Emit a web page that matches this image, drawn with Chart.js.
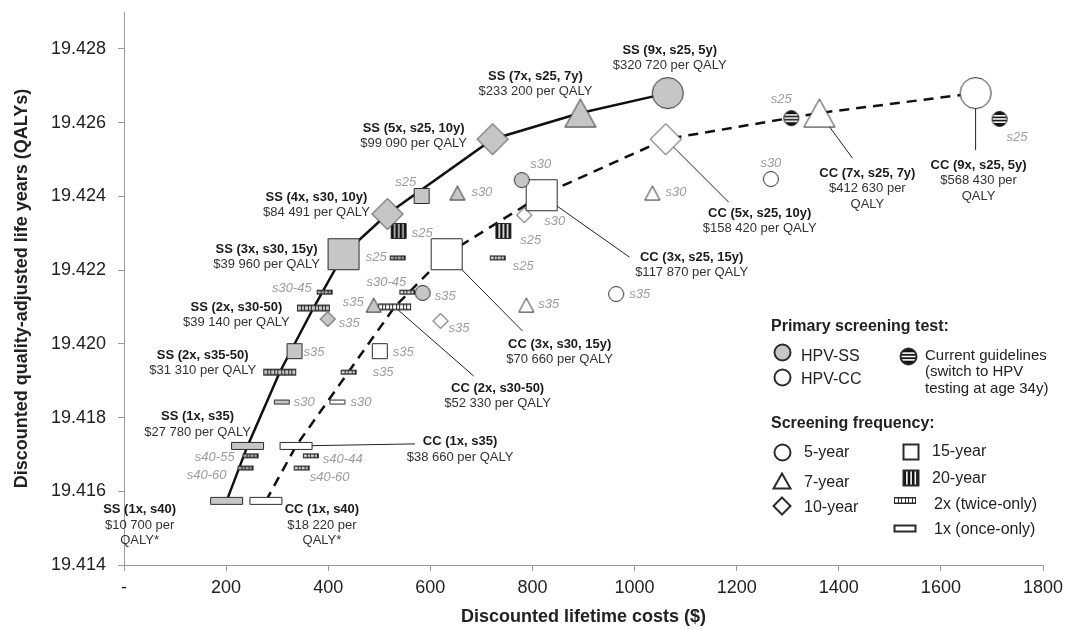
<!DOCTYPE html>
<html>
<head>
<meta charset="utf-8">
<script src="https://cdn.jsdelivr.net/npm/chart.js@4.4.1/dist/chart.umd.min.js"></script>
<style>
  body { margin: 0; background: #fff; }
  #wrap { width: 1065px; height: 629px; }
</style>
</head>
<body>
<div id="wrap"><canvas id="myChart" width="1065" height="629"></canvas></div>
<script>
// axis ticks
const costTicks = [0, 200, 400, 600, 800, 1000, 1200, 1400, 1600, 1800];
const qalyTicks = [19.414, 19.416, 19.418, 19.420, 19.422, 19.424, 19.426, 19.428];

// HPV-SS strategies
const ssType = ['1x', '1x', '1x', '2x', '2x', '2x', '15y', '2x', '2x', '10y', '15y', '2x', '20y', '10y', '15y', '7y', '5y', '10y', '7y', '5y', '7y', '5y'];
const ssCost = [201, 242, 309, 248, 238, 305, 334, 371, 393, 399, 430, 536, 538, 516, 583, 653, 779, 722, 894, 1065, 489, 585];
const ssQaly = [19.41574, 19.41723, 19.41842, 19.41696, 19.41663, 19.41923, 19.4198, 19.42097, 19.4214, 19.42067, 19.42243, 19.42233, 19.42306, 19.42352, 19.42401, 19.42409, 19.42444, 19.42555, 19.42626, 19.4268, 19.42105, 19.42138];
const ssTag = ['', '', 's30', 's40-55', 's40-60', '', 's35', '', 's30-45', 's35', '', 's25', 's25', '', 's25', 's30', 's30', '', '', '', 's35', 's35'];
const ssName = ['SS (1x, s40)', 'SS (1x, s35)', '', '', '', 'SS (2x, s35-50)', '', 'SS (2x, s30-50)', '', '', 'SS (3x, s30, 15y)', '', '', 'SS (4x, s30, 10y)', '', '', '', 'SS (5x, s25, 10y)', 'SS (7x, s25, 7y)', 'SS (9x, s25, 5y)', '', ''];
const ssIcer = ['$10 700 per|QALY*', '$27 780 per QALY', '', '', '', '$31 310 per QALY', '', '$39 140 per QALY', '', '', '$39 960 per QALY', '', '', '$84 491 per QALY', '', '', '', '$99 090 per QALY', '$233 200 per QALY', '$320 720 per QALY', '', ''];

// HPV-CC strategies
const ccType = ['1x', '1x', '1x', '2x', '2x', '2x', '15y', '10y', '2x', '2x', '15y', '2x', '20y', '10y', '15y', '7y', '5y', '7y', '10y', '5y', '7y', '5y'];
const ccCost = [278, 337, 418, 366, 348, 440, 501, 620, 530, 555, 632, 732, 743, 784, 818, 788, 964, 1035, 1061, 1267, 1362, 1668];
const ccQaly = [19.41574, 19.41723, 19.41842, 19.41696, 19.41663, 19.41923, 19.4198, 19.42062, 19.421, 19.4214, 19.42243, 19.42233, 19.42306, 19.42349, 19.42403, 19.42105, 19.42135, 19.42409, 19.42555, 19.42447, 19.42626, 19.4268];
const ccTag = ['', '', 's30', 's40-44', 's40-60', 's35', 's35', 's35', '', 's30-45', '', 's25', 's25', 's30', '', 's35', 's35', 's30', '', 's30', '', ''];
const ccName = ['CC (1x, s40)', 'CC (1x, s35)', '', '', '', '', '', '', 'CC (2x, s30-50)', '', 'CC (3x, s30, 15y)', '', '', '', 'CC (3x, s25, 15y)', '', '', '', 'CC (5x, s25, 10y)', '', 'CC (7x, s25, 7y)', 'CC (9x, s25, 5y)'];
const ccIcer = ['$18 220 per|QALY*', '$38 660 per QALY', '', '', '', '', '', '', '$52 330 per QALY', '', '$70 660 per QALY', '', '', '', '$117 870 per QALY', '', '', '', '$158 420 per QALY', '', '$412 630 per|QALY', '$568 430 per|QALY'];

// current guidelines
const cgCost = [1307, 1715];
const cgQaly = [19.42612, 19.4261];
const cgTag = ['s25', 's25'];

// label placement (pixel offsets from the marker)
const ssTagAt = {2: [12, 0, 'left'], 3: [-16, 2, 'right'], 4: [-19, 7, 'right'], 6: [9, 1, 'left'], 8: [-13, -4, 'right'], 9: [11, 4, 'left'], 11: [-11, -1, 'right'], 12: [13, 2, 'left'], 14: [-16, -14, 'center'], 15: [14, -1, 'left'], 16: [19, -16, 'center'], 20: [-10, -3, 'right'], 21: [12, 3, 'left']};
const ssNameAt = {0: [-87, 9], 1: [-50, -29], 5: [-77, -17], 7: [-77, -1], 10: [-77, -5], 13: [-71, -17], 17: [-79, -11], 18: [-45, -37], 19: [2, -43]};
const ccTagAt = {2: [13, 0, 'left'], 3: [12, 4, 'left'], 4: [8, 9, 'left'], 5: [24, 0, 'left'], 6: [13, 1, 'left'], 7: [8, 7, 'left'], 9: [-21, -10, 'center'], 11: [15, 8, 'left'], 12: [17, 9, 'left'], 13: [20, 6, 'left'], 15: [12, -1, 'left'], 16: [13, 0, 'left'], 17: [13, -1, 'left'], 19: [0, -16, 'center']};
const ccNameAt = {0: [56, 9], 1: [164, -4], 8: [103, 81], 10: [113, 90], 14: [150, 62], 18: [94, 74], 20: [48, 60], 21: [3, 72]};
const ccLeadTo = {1: [119, -2], 8: [79, 69], 10: [76, 77], 14: [88, 62], 18: [63, 63], 20: [33, 45], 21: [0, 57]};
const cgTagAt = {0: [-10, -19, 'center'], 1: [7, 18, 'left']};

const FONT = '"Liberation Sans", Arial, sans-serif';
const GRAY = '#c6c6c6';
const WHITE = '#ffffff';

// marker pictures used as Chart.js pointStyle
const marker = function (type, fill, w, h, lw) {
  lw = lw || 1;
  const c = document.createElement('canvas');
  c.width = w + 2 * lw;
  c.height = h + 2 * lw;
  const g = c.getContext('2d');
  g.translate(lw, lw);
  g.lineWidth = lw;
  g.strokeStyle = '#2b2b2b';
  g.fillStyle = fill;
  g.beginPath();
  if (type === '5y' || type === 'cg') {
    g.arc(w / 2, h / 2, w / 2 - 0.5, 0, Math.PI * 2);
  } else if (type === '7y') {
    g.moveTo(w / 2, 0.5);
    g.lineTo(w - 0.5, h - 0.5);
    g.lineTo(0.5, h - 0.5);
    g.closePath();
  } else if (type === '10y') {
    g.moveTo(w / 2, 0.5);
    g.lineTo(w - 0.5, h / 2);
    g.lineTo(w / 2, h - 0.5);
    g.lineTo(0.5, h / 2);
    g.closePath();
  } else {
    g.rect(0.5, 0.5, w - 1, h - 1);
  }
  g.fill();
  if (type === 'cg') {
    g.save();
    g.clip();
    g.fillStyle = '#111';
    g.fillRect(0, 0, w, h);
    g.fillStyle = '#fff';
    for (const f of [0.3, 0.5, 0.7]) g.fillRect(0, h * f - 0.8, w, 1.6);
    g.restore();
  }
  if (type === '20y') {
    g.fillStyle = '#111';
    for (let i = 0; i < 4; i++) g.fillRect(0.5 + i * 4.2, 0.5, 2.6, h - 1);
  }
  g.stroke();
  if (type === '2x') {
    g.beginPath();
    for (let x = 3.5; x < w - 1; x += 3.5) {
      g.moveTo(Math.round(x) + 0.5, 0.5);
      g.lineTo(Math.round(x) + 0.5, h - 0.5);
    }
    g.stroke();
    g.fillStyle = '#2b2b2b';
    g.fillRect(0, 0, w, 1.5);
    g.fillRect(0, h - 1.5, w, 1.5);
  }
  return c;
};

const markerFor = function (type, fill, big) {
  if (type === '1x') return big ? marker(type, fill, 33, 8) : marker(type, fill, 16, 5);
  if (type === '2x') return big ? marker(type, fill, 33, 7) : marker(type, fill, 16, 5);
  if (type === '20y') return marker(type, fill, 16, 16);
  if (type === 'cg') return marker(type, fill, 16, 16);
  const s = big ? 32 : 16;
  return marker(type, fill, s, type === '7y' ? Math.round(s * 0.92) : s);
};

const points = function (cost, qaly) {
  return cost.map((c, i) => ({x: c, y: qaly[i]}));
};
const frontier = function (cost, qaly, name) {
  return points(cost, qaly).filter((p, i) => name[i] !== '').sort((a, b) => a.x - b.x);
};

const series = [
  {cost: ssCost, qaly: ssQaly, tag: ssTag, name: ssName, icer: ssIcer, tagAt: ssTagAt, nameAt: ssNameAt, leadTo: {}},
  {cost: ccCost, qaly: ccQaly, tag: ccTag, name: ccName, icer: ccIcer, tagAt: ccTagAt, nameAt: ccNameAt, leadTo: ccLeadTo},
  {cost: cgCost, qaly: cgQaly, tag: cgTag, name: [], icer: [], tagAt: cgTagAt, nameAt: {}, leadTo: {}},
];

const notes = {
  id: 'notes',
  beforeDatasetsDraw(chart) {
    const ctx = chart.ctx;
    const xs = chart.scales.x, ys = chart.scales.y;
    ctx.save();
    ctx.strokeStyle = '#222';
    ctx.lineWidth = 1;
    for (const s of series) {
      for (const k in s.leadTo) {
        const px = xs.getPixelForValue(s.cost[k]), py = ys.getPixelForValue(s.qaly[k]);
        ctx.beginPath();
        ctx.moveTo(px, py);
        ctx.lineTo(px + s.leadTo[k][0], py + s.leadTo[k][1]);
        ctx.stroke();
      }
    }
    ctx.restore();
  },
  afterDatasetsDraw(chart) {
    const ctx = chart.ctx;
    const xs = chart.scales.x, ys = chart.scales.y;
    ctx.save();
    ctx.textBaseline = 'middle';
    for (const s of series) {
      ctx.font = 'italic 13px ' + FONT;
      ctx.fillStyle = '#9c9c9c';
      for (const k in s.tagAt) {
        const px = xs.getPixelForValue(s.cost[k]), py = ys.getPixelForValue(s.qaly[k]);
        const a = s.tagAt[k];
        ctx.textAlign = a[2];
        ctx.fillText(s.tag[k], px + a[0], py + a[1]);
      }
      ctx.textAlign = 'center';
      for (const k in s.nameAt) {
        const px = xs.getPixelForValue(s.cost[k]), py = ys.getPixelForValue(s.qaly[k]);
        const a = s.nameAt[k];
        const x = px + a[0];
        let y = py + a[1];
        ctx.font = 'bold 13px ' + FONT;
        ctx.fillStyle = '#1a1a1a';
        ctx.fillText(s.name[k], x, y);
        ctx.font = '13px ' + FONT;
        ctx.fillStyle = '#333';
        for (const line of s.icer[k].split('|')) {
          y += 15.5;
          ctx.fillText(line, x, y);
        }
      }
    }
    ctx.restore();
  },
  afterDraw(chart) {
    const ctx = chart.ctx;
    const icon = function (c, x, y) {
      ctx.drawImage(c, Math.round(x - c.width / 2), Math.round(y - c.height / 2));
    };
    const text = function (t, x, y, font) {
      ctx.font = font;
      ctx.fillText(t, x, y);
    };
    ctx.save();
    ctx.fillStyle = '#222';
    ctx.textAlign = 'left';
    ctx.textBaseline = 'middle';
    const big = 'bold 16px ' + FONT, reg = '16px ' + FONT, small = '15px ' + FONT;
    text('Primary screening test:', 771, 327, big);
    icon(marker('5y', GRAY, 17, 17, 2), 782, 352);
    text('HPV-SS', 801, 357, reg);
    icon(marker('5y', WHITE, 17, 17, 2), 782, 377);
    text('HPV-CC', 801, 380, reg);
    icon(marker('cg', WHITE, 17, 17, 2), 908, 356);
    text('Current guidelines', 925, 356, small);
    text('(switch to HPV', 925, 372, small);
    text('testing at age 34y)', 925, 389, small);
    text('Screening frequency:', 771, 424, big);
    icon(marker('5y', WHITE, 17, 17, 2), 782, 452);
    text('5-year', 804, 453, reg);
    icon(marker('7y', WHITE, 18, 16, 2), 782, 481);
    text('7-year', 804, 483, reg);
    icon(marker('10y', WHITE, 18, 18, 2), 782, 506);
    text('10-year', 804, 508, reg);
    icon(marker('15y', WHITE, 16, 16, 2), 911, 452);
    text('15-year', 932, 452, reg);
    icon(marker('20y', WHITE, 16, 16, 2), 911, 478);
    text('20-year', 932, 479, reg);
    icon(marker('2x', WHITE, 22, 7), 905, 500);
    text('2x (twice-only)', 934, 505, reg);
    icon(marker('1x', WHITE, 22, 7, 2), 905, 528);
    text('1x (once-only)', 934, 530, reg);
    ctx.restore();
  },
};

const init = function () {
  Chart.defaults.font.family = FONT;
  Chart.defaults.color = '#222';
  const ctx = document.getElementById('myChart').getContext('2d');
  new Chart(ctx, {
    type: 'scatter',
    data: {
      datasets: [
        {
          data: points(cgCost, cgQaly),
          pointStyle: cgCost.map(() => markerFor('cg', WHITE, false)),
          pointRadius: 5,
          order: 1,
        },
        {
          data: points(ssCost, ssQaly),
          pointStyle: ssType.map((t, i) => markerFor(t, GRAY, ssName[i] !== '')),
          pointRadius: 5,
          order: 1,
        },
        {
          data: points(ccCost, ccQaly),
          pointStyle: ccType.map((t, i) => markerFor(t, WHITE, ccName[i] !== '')),
          pointRadius: 5,
          order: 1,
        },
        {
          data: frontier(ssCost, ssQaly, ssName),
          showLine: true,
          borderColor: '#111',
          borderWidth: 2.5,
          pointRadius: 0,
          order: 5,
        },
        {
          data: frontier(ccCost, ccQaly, ccName),
          showLine: true,
          borderColor: '#111',
          borderWidth: 2.5,
          borderDash: [10, 7],
          pointRadius: 0,
          order: 5,
        },
      ],
    },
    options: {
      responsive: false,
      animation: false,
      layout: {padding: {top: 12, right: 22, left: 0, bottom: 0}},
      plugins: {legend: {display: false}, tooltip: {enabled: false}},
      scales: {
        x: {
          type: 'linear',
          min: 0,
          max: 1800,
          afterBuildTicks: (s) => { s.ticks = costTicks.map((v) => ({value: v})); },
          afterFit: (s) => { s.height = 64; s.paddingLeft = 0; s.paddingRight = 0; },
          ticks: {
            font: {size: 18},
            color: '#222',
            padding: 6,
            maxRotation: 0,
            callback: (v) => (v === 0 ? '-' : v),
          },
          grid: {drawOnChartArea: false, drawTicks: true, tickLength: 6, color: '#9a9a9a'},
          border: {color: '#9a9a9a'},
          title: {display: true, text: 'Discounted lifetime costs ($)', font: {size: 18, weight: 'bold'}, color: '#222', padding: {top: 0, bottom: 1}},
        },
        y: {
          type: 'linear',
          min: 19.414,
          max: 19.429,
          afterBuildTicks: (s) => { s.ticks = qalyTicks.map((v) => ({value: v})); },
          afterFit: (s) => { s.width = 124; s.paddingTop = 0; s.paddingBottom = 0; },
          ticks: {
            font: {size: 18},
            color: '#222',
            padding: 12,
            callback: (v) => v.toFixed(3),
          },
          grid: {drawOnChartArea: false, drawTicks: true, tickLength: 6, color: '#9a9a9a'},
          border: {color: '#9a9a9a'},
          title: {display: true, text: 'Discounted quality-adjusted life years (QALYs)', font: {size: 18, weight: 'bold'}, color: '#222', padding: {top: 11, bottom: 0}},
        },
      },
    },
    plugins: [notes],
  });
};

document.addEventListener('DOMContentLoaded', init);
</script>
</body>
</html>
